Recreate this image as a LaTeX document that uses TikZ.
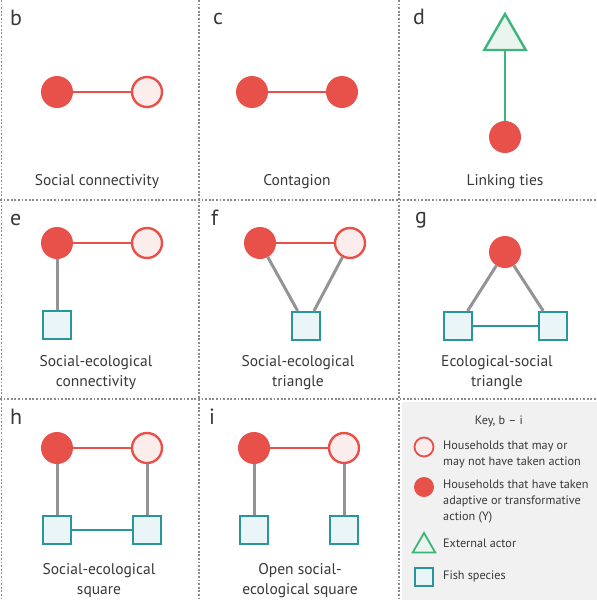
\documentclass[tikz,border=0pt]{standalone}
\usepackage{fontspec}
\setmainfont{PT Sans}
\usetikzlibrary{shapes.geometric}
\definecolor{hred}{HTML}{E8504A}
\definecolor{hpink}{HTML}{FCEDED}
\definecolor{teal2}{HTML}{2A969C}
\definecolor{tealfill}{HTML}{EAF5F7}
\definecolor{grn}{HTML}{3DB57A}
\definecolor{grnfill}{HTML}{EBF5EF}
\definecolor{keybg}{HTML}{F0F1F0}
\definecolor{txt}{HTML}{383838}
\definecolor{dots}{HTML}{8A8A8A}
\tikzset{
  fillhh/.style={circle, fill=hred, draw=none, minimum size=32pt, inner sep=0pt},
  openhh/.style={circle, fill=hpink, draw=hred, line width=2.4pt, minimum size=30pt, inner sep=0pt},
  fish/.style={rectangle, fill=tealfill, draw=teal2, line width=2.2pt, minimum size=28pt, inner sep=0pt},
  actor/.style={regular polygon, regular polygon sides=3, fill=grnfill, draw=grn, line width=2.4pt, minimum size=48pt, inner sep=0pt},
  redtie/.style={draw=hred, line width=2.4pt},
  graytie/.style={draw=black!42, line width=3pt},
  tealtie/.style={draw=teal2, line width=2.8pt},
  greentie/.style={draw=grn, line width=2.8pt},
  grid/.style={draw=dots, line width=1.8pt, dash pattern=on 1.8pt off 1.8pt},
  panel/.style={anchor=base west, font=\fontsize{22}{22}\selectfont, text=txt, inner sep=0pt},
  caption/.style={align=center, font=\fontsize{15.5}{20}\selectfont, text=txt, inner sep=0pt},
  keytext/.style={anchor=west, align=left, font=\fontsize{12.2}{16}\selectfont, text=txt, inner sep=0pt},
}
\begin{document}
\begin{tikzpicture}[x=1pt, y=-1pt]
\useasboundingbox (0,0) rectangle (597,600);
% key background
\fill[keybg] (402,402) rectangle (597,600);
% grid
\draw[grid] (1.5,0) -- (1.5,600);
\draw[grid] (199,0) -- (199,600);
\draw[grid] (399,0) -- (399,600);
\draw[grid] (0,200) -- (597,200);
\draw[grid] (0,399) -- (597,399);

% panel b
\node[panel] (lb) at (10,25) {b};
\node[fillhh] (b1) at (57,92) {};
\node[openhh] (b2) at (147,92) {};
\draw[redtie] (b1) -- (b2);
\node[caption] (cb) at (97,182) {Social connectivity};

% panel c
\node[panel] (lc) at (213,24) {c};
\node[fillhh] (c1) at (252,92) {};
\node[fillhh] (c2) at (342,92) {};
\draw[redtie] (c1) -- (c2);
\node[caption] (cc) at (297,182) {Contagion};

% panel d
\node[panel] (ld) at (413,24) {d};
\node[actor] (d1) at (505,38) {};
\node[fillhh] (d2) at (505,137) {};
\draw[greentie] (d1.side 2) -- (d2);
\node[caption] (cd) at (505,182) {Linking ties};

% panel e
\node[panel] (le) at (10,225) {e};
\node[fillhh] (e1) at (57,243) {};
\node[openhh] (e2) at (147,243) {};
\node[fish] (e3) at (57,325) {};
\draw[redtie] (e1) -- (e2);
\draw[graytie] (e1) -- (e3);
\node[caption] (ce) at (96,373) {Social-ecological\\connectivity};

% panel f
\node[panel] (lf) at (211,225) {f};
\node[fillhh] (f1) at (260,243) {};
\node[openhh] (f2) at (350,243) {};
\node[fish] (f3) at (306,326) {};
\draw[redtie] (f1) -- (f2);
\draw[graytie] (f1) -- (f3);
\draw[graytie] (f2) -- (f3);
\node[caption] (cf) at (298,373) {Social-ecological\\triangle};

% panel g
\node[panel] (lg) at (415,223) {g};
\node[fillhh] (g1) at (505,252) {};
\node[fish] (g2) at (458,326) {};
\node[fish] (g3) at (553,326) {};
\draw[graytie] (g1) -- (g2);
\draw[graytie] (g1) -- (g3);
\draw[tealtie] (g2) -- (g3);
\node[caption] (cg) at (497,373) {Ecological-social\\triangle};

% panel h
\node[panel] (lh) at (10,424) {h};
\node[fillhh] (h1) at (57,448) {};
\node[openhh] (h2) at (147,448) {};
\node[fish] (h3) at (57,530) {};
\node[fish] (h4) at (147,530) {};
\draw[redtie] (h1) -- (h2);
\draw[graytie] (h1) -- (h3);
\draw[graytie] (h2) -- (h4);
\draw[tealtie] (h3) -- (h4);
\node[caption] (ch) at (99,581) {Social-ecological\\square};

% panel i
\node[panel] (li) at (209,424) {i};
\node[fillhh] (i1) at (254,448) {};
\node[openhh] (i2) at (344,448) {};
\node[fish] (i3) at (254,530) {};
\node[fish] (i4) at (344,530) {};
\draw[redtie] (i1) -- (i2);
\draw[graytie] (i1) -- (i3);
\draw[graytie] (i2) -- (i4);
\node[caption] (ci) at (300,581) {Open social-\\ecological square};

% key
\node[caption, font=\fontsize{12.2}{16}\selectfont] (kt) at (499,421) {Key, b – i};
\node[openhh, minimum size=19pt, line width=1.8pt] (k1) at (424,447) {};
\node[keytext] (k1t) at (443,454) {Households that may or\\may not have taken action};
\node[fillhh, minimum size=20pt] (k2) at (424,487) {};
\node[keytext] (k2t) at (443,502) {Households that have taken\\adaptive or transformative\\action (Y)};
\node[actor, minimum size=26pt, line width=1.8pt] (k3) at (424,546) {};
\node[keytext] (k3t) at (443,543) {External actor};
\node[fish, minimum size=18pt, line width=1.8pt] (k4) at (424,577) {};
\node[keytext] (k4t) at (443,576) {Fish species};
\end{tikzpicture}
\end{document}
